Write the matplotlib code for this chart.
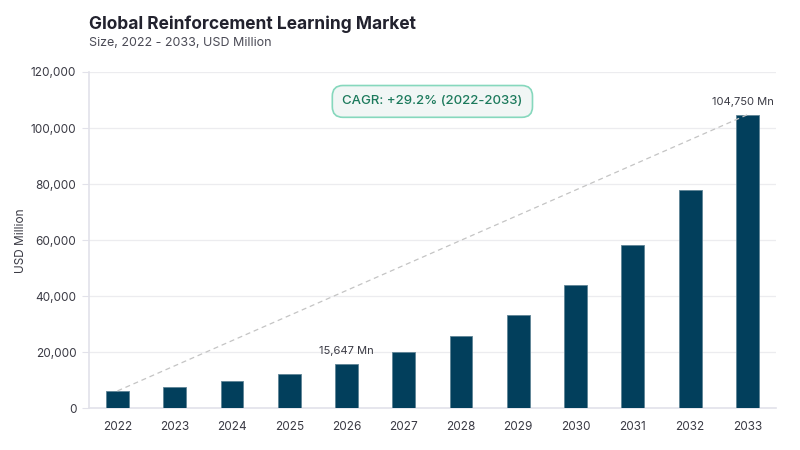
import matplotlib
matplotlib.use('Agg')
import matplotlib.pyplot as plt
from matplotlib.ticker import FuncFormatter

plt.rcParams['font.family'] = ['Inter', 'DejaVu Sans']

years = ['2022', '2023', '2024', '2025', '2026', '2027', '2028', '2029', '2030', '2031', '2032', '2033']
values = [6150, 7700, 9700, 12200, 15647, 19900, 25700, 33400, 44100, 58300, 77700, 104750]
labelled = {4: '15,647 Mn', 11: '104,750 Mn'}
cagr_text = 'CAGR: +29.2% (2022-2033)'

fig = plt.figure(figsize=(8, 4.5), dpi=100)
ax = fig.add_axes([0.111, 0.093, 0.859, 0.747])

x = list(range(len(years)))
ax.bar(x, values, width=0.4, color='#023f5c', edgecolor='#5f8496', linewidth=0.6, zorder=3)

# dashed trend line from first to last bar
ax.plot([x[0], x[-1]], [values[0], values[-1]], ls=(0, (4, 3)), color='#c4c4c4', lw=0.9, zorder=4)

for i, txt in labelled.items():
    xi = x[i] - 0.08 if i == 11 else x[i]
    ax.text(xi, values[i] + 2800, txt, ha='center', va='bottom', fontsize=8, color='#3a3a44', zorder=5)

ax.text(5.5, 109500, cagr_text, ha='center', va='center', fontsize=9.5, fontweight='medium', color='#1c7a5c', zorder=5,
        bbox=dict(boxstyle='round,pad=0.75,rounding_size=0.8', facecolor='#f1f6f5', edgecolor='#86d8bd', linewidth=1.2))

ax.set_xlim(-0.5, 11.5)
ax.set_ylim(0, 120000)
ax.set_xticks(x)
ax.set_xticklabels(years)
ax.set_yticks(range(0, 120001, 20000))
ax.yaxis.set_major_formatter(FuncFormatter(lambda v, p: f'{int(v):,}'))
ax.grid(axis='y', color='#ececef', lw=0.9, zorder=0)
ax.tick_params(axis='x', length=0, pad=9, labelsize=8.5, labelcolor='#3a3a44')
ax.tick_params(axis='y', length=5, color='#e2e2ea', pad=4, labelsize=8.5, labelcolor='#3a3a44')
for s in ['top', 'right']:
    ax.spines[s].set_visible(False)
ax.spines['left'].set_color('#e2e2ea')
ax.spines['bottom'].set_color('#e2e2ea')
ax.spines['left'].set_linewidth(1.2)
ax.spines['bottom'].set_linewidth(1.2)

fig.text(0.026, 0.465, 'USD Million', rotation=90, fontsize=8.5, color='#3a3a44', ha='center', va='center')
fig.text(0.111, 0.947, 'Global Reinforcement Learning Market', fontsize=12.5, fontweight='bold', color='#22222e', va='center')
fig.text(0.111, 0.904, 'Size, 2022 - 2033, USD Million', fontsize=9, color='#4a4a55', va='center')

fig.savefig('out.png', dpi=100)
